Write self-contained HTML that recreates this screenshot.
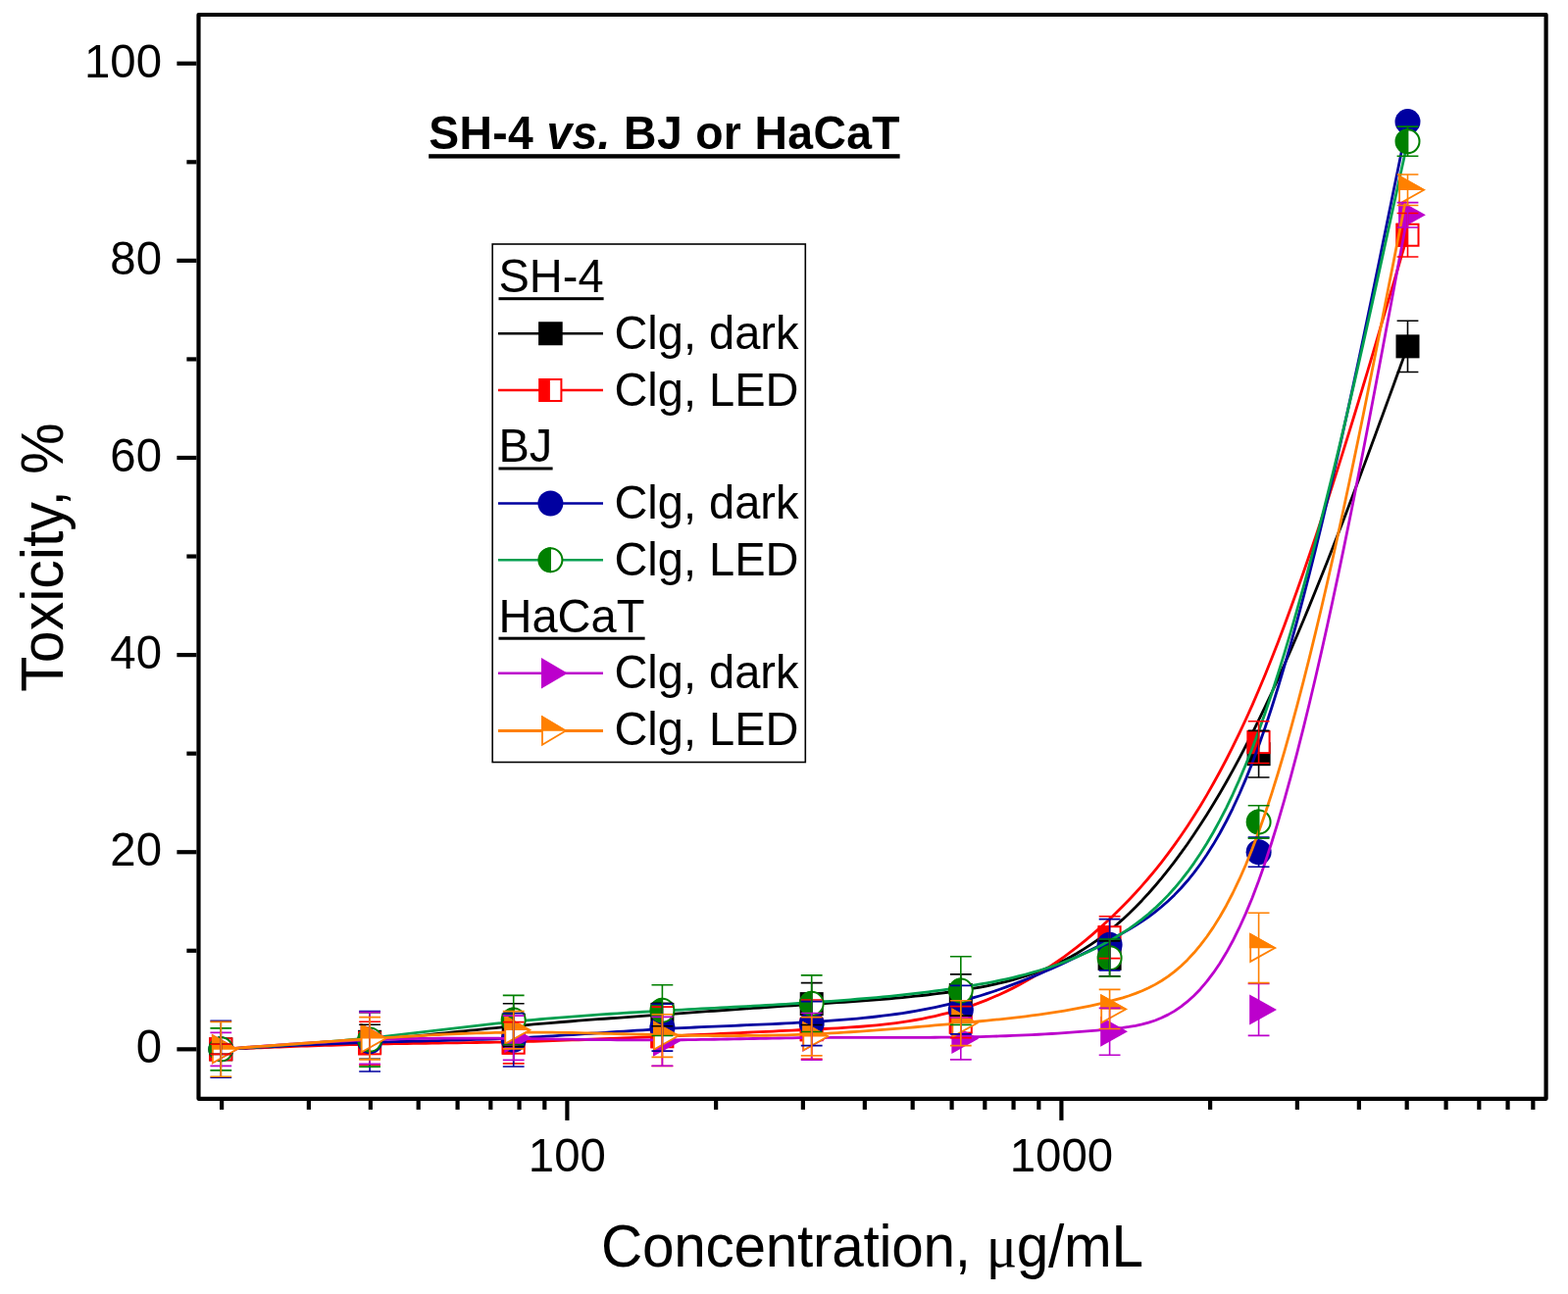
<!DOCTYPE html>
<html><head><meta charset="utf-8"><title>Toxicity plot</title>
<style>html,body{margin:0;padding:0;background:#fff;width:1599px;height:1320px;overflow:hidden}svg{display:block}</style>
</head><body>
<svg width="1599" height="1320" viewBox="0 0 1599 1320" style="position:absolute;left:0;top:0">
<rect width="1599" height="1320" fill="#fff"/>
<path d="M225.3,1070.35 L225.3,1070.35 L225.32,1070.35 L225.36,1070.35 L225.43,1070.34 L225.56,1070.34 L225.75,1070.33 L226.01,1070.31 L226.36,1070.3 L226.82,1070.27 L227.38,1070.25 L228.07,1070.21 L228.89,1070.17 L229.87,1070.12 L231.01,1070.07 L232.32,1070 L233.82,1069.93 L235.52,1069.84 L237.43,1069.75 L239.56,1069.64 L241.94,1069.52 L244.56,1069.39 L247.44,1069.25 L250.6,1069.09 L254.04,1068.92 L257.76,1068.74 L261.73,1068.54 L265.96,1068.32 L270.42,1068.09 L275.1,1067.85 L279.99,1067.59 L285.08,1067.31 L290.35,1067.02 L295.8,1066.71 L301.4,1066.39 L307.14,1066.05 L313.02,1065.69 L319.02,1065.32 L325.12,1064.93 L331.32,1064.53 L337.6,1064.1 L343.94,1063.66 L350.34,1063.21 L356.79,1062.73 L363.26,1062.24 L369.74,1061.73 L376.23,1061.2 L382.72,1060.65 L389.19,1060.09 L395.65,1059.51 L402.11,1058.92 L408.56,1058.31 L415.01,1057.69 L421.45,1057.06 L427.89,1056.43 L434.32,1055.78 L440.75,1055.13 L447.18,1054.48 L453.61,1053.82 L460.04,1053.16 L466.47,1052.49 L472.91,1051.83 L479.34,1051.17 L485.78,1050.52 L492.23,1049.86 L498.68,1049.22 L505.14,1048.58 L511.6,1047.95 L518.07,1047.33 L524.55,1046.72 L531.04,1046.12 L537.54,1045.54 L544.05,1044.96 L550.56,1044.4 L557.09,1043.85 L563.62,1043.3 L570.16,1042.77 L576.71,1042.24 L583.26,1041.73 L589.82,1041.22 L596.38,1040.71 L602.96,1040.21 L609.53,1039.72 L616.11,1039.24 L622.7,1038.75 L629.29,1038.28 L635.88,1037.8 L642.48,1037.33 L649.08,1036.86 L655.68,1036.39 L662.29,1035.92 L668.89,1035.45 L675.5,1034.99 L682.11,1034.52 L688.72,1034.05 L695.33,1033.58 L701.94,1033.11 L708.56,1032.64 L715.17,1032.17 L721.78,1031.7 L728.4,1031.24 L735.02,1030.77 L741.63,1030.3 L748.25,1029.84 L754.87,1029.37 L761.48,1028.91 L768.1,1028.45 L774.72,1027.99 L781.34,1027.53 L787.96,1027.08 L794.58,1026.63 L801.19,1026.18 L807.81,1025.73 L814.43,1025.29 L821.05,1024.85 L827.67,1024.41 L834.28,1023.98 L840.9,1023.54 L847.52,1023.11 L854.13,1022.67 L860.75,1022.23 L867.36,1021.78 L873.98,1021.31 L880.59,1020.84 L887.21,1020.34 L893.82,1019.83 L900.43,1019.3 L907.05,1018.74 L913.66,1018.16 L920.27,1017.54 L926.88,1016.9 L933.49,1016.23 L940.1,1015.51 L946.71,1014.76 L953.32,1013.97 L959.93,1013.14 L966.54,1012.26 L973.14,1011.33 L979.75,1010.35 L986.36,1009.32 L992.96,1008.22 L999.57,1007.04 L1006.17,1005.78 L1012.78,1004.41 L1019.38,1002.93 L1025.98,1001.33 L1032.59,999.6 L1039.19,997.71 L1045.79,995.67 L1052.4,993.45 L1059,991.06 L1065.6,988.47 L1072.2,985.67 L1078.81,982.65 L1085.41,979.41 L1092.01,975.92 L1098.62,972.18 L1105.22,968.17 L1111.82,963.89 L1118.43,959.32 L1125.03,954.44 L1131.63,949.26 L1138.24,943.75 L1144.84,937.92 L1151.45,931.75 L1158.05,925.25 L1164.66,918.42 L1171.27,911.25 L1177.87,903.74 L1184.48,895.88 L1191.08,887.67 L1197.69,879.11 L1204.3,870.2 L1210.91,860.94 L1217.51,851.31 L1224.12,841.32 L1230.73,830.97 L1237.33,820.25 L1243.94,809.16 L1250.55,797.69 L1257.16,785.85 L1263.76,773.63 L1270.37,761.02 L1276.98,748.03 L1283.58,734.65 L1290.19,720.88 L1296.78,706.78 L1303.35,692.39 L1309.87,677.76 L1316.35,662.94 L1322.77,647.99 L1329.11,632.95 L1335.36,617.88 L1341.52,602.83 L1347.56,587.85 L1353.48,572.98 L1359.25,558.29 L1364.88,543.82 L1370.35,529.63 L1375.64,515.76 L1380.75,502.27 L1385.65,489.2 L1390.34,476.62 L1394.81,464.56 L1399.04,453.08 L1403.02,442.24 L1406.74,432.08 L1410.18,422.66 L1413.34,414.01 L1416.23,406.11 L1418.85,398.92 L1421.23,392.43 L1423.36,386.58 L1425.28,381.34 L1426.98,376.69 L1428.48,372.58 L1429.79,368.99 L1430.93,365.87 L1431.9,363.2 L1432.73,360.94 L1433.42,359.05 L1433.98,357.51 L1434.43,356.27 L1434.79,355.31 L1435.05,354.59 L1435.24,354.07 L1435.37,353.72 L1435.44,353.51 L1435.48,353.4 L1435.5,353.36 L1435.5,353.36" fill="none" stroke="#000000" stroke-width="2.8" stroke-linejoin="round"/><rect x="213.3" y="1058.35" width="24" height="24" fill="#000000"/><rect x="365.1" y="1050.81" width="24" height="24" fill="#000000"/><rect x="511.7" y="1033.61" width="24" height="24" fill="#000000"/><rect x="663.4" y="1023.05" width="24" height="24" fill="#000000"/><rect x="815.7" y="1012.09" width="24" height="24" fill="#000000"/><rect x="967.8" y="1003.04" width="24" height="24" fill="#000000"/><rect x="1119.6" y="965.83" width="24" height="24" fill="#000000"/><rect x="1271.6" y="757.17" width="24" height="24" fill="#000000"/><rect x="1423.5" y="341.36" width="24" height="24" fill="#000000"/>
<path d="M225.3,1070.35 L225.3,1070.35 L225.32,1070.35 L225.36,1070.35 L225.43,1070.34 L225.56,1070.34 L225.75,1070.33 L226.01,1070.32 L226.36,1070.31 L226.82,1070.29 L227.38,1070.27 L228.07,1070.24 L228.89,1070.21 L229.87,1070.17 L231.01,1070.12 L232.32,1070.07 L233.82,1070.01 L235.52,1069.94 L237.43,1069.87 L239.56,1069.78 L241.94,1069.69 L244.56,1069.58 L247.44,1069.47 L250.6,1069.34 L254.04,1069.21 L257.76,1069.06 L261.73,1068.9 L265.96,1068.74 L270.42,1068.57 L275.1,1068.39 L279.99,1068.2 L285.08,1068.01 L290.35,1067.82 L295.8,1067.62 L301.4,1067.42 L307.14,1067.22 L313.02,1067.02 L319.02,1066.82 L325.12,1066.62 L331.32,1066.43 L337.6,1066.24 L343.94,1066.05 L350.34,1065.87 L356.79,1065.7 L363.26,1065.53 L369.74,1065.37 L376.23,1065.22 L382.72,1065.08 L389.19,1064.95 L395.65,1064.83 L402.11,1064.72 L408.56,1064.61 L415.01,1064.51 L421.45,1064.41 L427.89,1064.32 L434.32,1064.23 L440.75,1064.14 L447.18,1064.05 L453.61,1063.96 L460.04,1063.87 L466.47,1063.78 L472.91,1063.69 L479.34,1063.59 L485.78,1063.49 L492.23,1063.39 L498.68,1063.27 L505.14,1063.15 L511.6,1063.03 L518.07,1062.89 L524.55,1062.74 L531.04,1062.58 L537.54,1062.41 L544.05,1062.23 L550.56,1062.05 L557.09,1061.85 L563.62,1061.64 L570.16,1061.42 L576.71,1061.2 L583.26,1060.97 L589.82,1060.73 L596.38,1060.49 L602.96,1060.23 L609.53,1059.98 L616.11,1059.71 L622.7,1059.45 L629.29,1059.17 L635.88,1058.9 L642.48,1058.62 L649.08,1058.33 L655.68,1058.05 L662.29,1057.76 L668.89,1057.47 L675.5,1057.18 L682.11,1056.88 L688.72,1056.59 L695.33,1056.29 L701.94,1056 L708.56,1055.7 L715.17,1055.4 L721.78,1055.1 L728.4,1054.8 L735.02,1054.49 L741.63,1054.19 L748.25,1053.89 L754.87,1053.58 L761.48,1053.27 L768.1,1052.96 L774.72,1052.65 L781.34,1052.34 L787.96,1052.03 L794.58,1051.72 L801.19,1051.4 L807.81,1051.09 L814.43,1050.77 L821.05,1050.46 L827.67,1050.14 L834.28,1049.82 L840.9,1049.49 L847.52,1049.15 L854.13,1048.78 L860.75,1048.39 L867.36,1047.97 L873.98,1047.51 L880.59,1047 L887.21,1046.44 L893.82,1045.82 L900.43,1045.13 L907.05,1044.38 L913.66,1043.54 L920.27,1042.62 L926.88,1041.61 L933.49,1040.5 L940.1,1039.29 L946.71,1037.97 L953.32,1036.53 L959.93,1034.96 L966.54,1033.27 L973.14,1031.44 L979.75,1029.47 L986.36,1027.35 L992.96,1025.08 L999.57,1022.66 L1006.17,1020.08 L1012.78,1017.33 L1019.38,1014.43 L1025.98,1011.36 L1032.59,1008.12 L1039.19,1004.71 L1045.79,1001.12 L1052.4,997.36 L1059,993.42 L1065.6,989.3 L1072.2,984.99 L1078.81,980.5 L1085.41,975.81 L1092.01,970.93 L1098.62,965.85 L1105.22,960.58 L1111.82,955.1 L1118.43,949.42 L1125.03,943.53 L1131.63,937.43 L1138.24,931.11 L1144.84,924.57 L1151.45,917.77 L1158.05,910.72 L1164.66,903.38 L1171.27,895.74 L1177.87,887.8 L1184.48,879.52 L1191.08,870.89 L1197.69,861.89 L1204.3,852.52 L1210.91,842.74 L1217.51,832.55 L1224.12,821.93 L1230.73,810.86 L1237.33,799.32 L1243.94,787.29 L1250.55,774.77 L1257.16,761.73 L1263.76,748.16 L1270.37,734.03 L1276.98,719.34 L1283.58,704.06 L1290.19,688.19 L1296.78,671.8 L1303.35,654.93 L1309.87,637.68 L1316.35,620.09 L1322.77,602.25 L1329.11,584.22 L1335.36,566.06 L1341.52,547.86 L1347.56,529.67 L1353.48,511.56 L1359.25,493.61 L1364.88,475.88 L1370.35,458.45 L1375.64,441.37 L1380.75,424.72 L1385.65,408.57 L1390.34,392.99 L1394.81,378.04 L1399.04,363.79 L1403.02,350.31 L1406.74,337.68 L1410.18,325.95 L1413.34,315.19 L1416.23,305.36 L1418.85,296.42 L1421.23,288.34 L1423.36,281.06 L1425.28,274.54 L1426.98,268.75 L1428.48,263.64 L1429.79,259.17 L1430.93,255.3 L1431.9,251.97 L1432.73,249.16 L1433.42,246.81 L1433.98,244.89 L1434.43,243.35 L1434.79,242.16 L1435.05,241.26 L1435.24,240.61 L1435.37,240.18 L1435.44,239.92 L1435.48,239.78 L1435.5,239.73 L1435.5,239.72" fill="none" stroke="#ff0000" stroke-width="2.8" stroke-linejoin="round"/><rect x="214.3" y="1059.35" width="22" height="22" fill="#fff" stroke="#ff0000" stroke-width="2"/><rect x="213.3" y="1058.35" width="11.5" height="24" fill="#ff0000"/><rect x="366.1" y="1053.32" width="22" height="22" fill="#fff" stroke="#ff0000" stroke-width="2"/><rect x="365.1" y="1052.32" width="11.5" height="24" fill="#ff0000"/><rect x="512.7" y="1052.71" width="22" height="22" fill="#fff" stroke="#ff0000" stroke-width="2"/><rect x="511.7" y="1051.71" width="11.5" height="24" fill="#ff0000"/><rect x="664.4" y="1046.28" width="22" height="22" fill="#fff" stroke="#ff0000" stroke-width="2"/><rect x="663.4" y="1045.28" width="11.5" height="24" fill="#ff0000"/><rect x="816.7" y="1039.24" width="22" height="22" fill="#fff" stroke="#ff0000" stroke-width="2"/><rect x="815.7" y="1038.24" width="11.5" height="24" fill="#ff0000"/><rect x="968.8" y="1031.6" width="22" height="22" fill="#fff" stroke="#ff0000" stroke-width="2"/><rect x="967.8" y="1030.6" width="11.5" height="24" fill="#ff0000"/><rect x="1120.6" y="945.21" width="22" height="22" fill="#fff" stroke="#ff0000" stroke-width="2"/><rect x="1119.6" y="944.21" width="11.5" height="24" fill="#ff0000"/><rect x="1272.6" y="746.11" width="22" height="22" fill="#fff" stroke="#ff0000" stroke-width="2"/><rect x="1271.6" y="745.11" width="11.5" height="24" fill="#ff0000"/><rect x="1424.5" y="228.72" width="22" height="22" fill="#fff" stroke="#ff0000" stroke-width="2"/><rect x="1423.5" y="227.72" width="11.5" height="24" fill="#ff0000"/>
<path d="M225.3,1070.35 L225.3,1070.35 L225.32,1070.35 L225.36,1070.35 L225.43,1070.34 L225.56,1070.34 L225.75,1070.33 L226.01,1070.31 L226.36,1070.29 L226.82,1070.27 L227.38,1070.24 L228.07,1070.2 L228.89,1070.16 L229.87,1070.11 L231.01,1070.05 L232.32,1069.98 L233.82,1069.9 L235.52,1069.81 L237.43,1069.71 L239.56,1069.59 L241.94,1069.47 L244.56,1069.33 L247.44,1069.18 L250.6,1069.01 L254.04,1068.83 L257.76,1068.63 L261.73,1068.42 L265.96,1068.2 L270.42,1067.97 L275.1,1067.73 L279.99,1067.48 L285.08,1067.23 L290.35,1066.96 L295.8,1066.7 L301.4,1066.43 L307.14,1066.16 L313.02,1065.89 L319.02,1065.62 L325.12,1065.35 L331.32,1065.08 L337.6,1064.82 L343.94,1064.56 L350.34,1064.31 L356.79,1064.07 L363.26,1063.83 L369.74,1063.61 L376.23,1063.39 L382.72,1063.19 L389.19,1063 L395.65,1062.82 L402.11,1062.65 L408.56,1062.48 L415.01,1062.32 L421.45,1062.16 L427.89,1062.01 L434.32,1061.85 L440.75,1061.69 L447.18,1061.54 L453.61,1061.38 L460.04,1061.21 L466.47,1061.04 L472.91,1060.86 L479.34,1060.67 L485.78,1060.47 L492.23,1060.25 L498.68,1060.03 L505.14,1059.78 L511.6,1059.53 L518.07,1059.25 L524.55,1058.95 L531.04,1058.64 L537.54,1058.3 L544.05,1057.95 L550.56,1057.58 L557.09,1057.19 L563.62,1056.8 L570.16,1056.39 L576.71,1055.97 L583.26,1055.55 L589.82,1055.11 L596.38,1054.68 L602.96,1054.24 L609.53,1053.79 L616.11,1053.35 L622.7,1052.91 L629.29,1052.47 L635.88,1052.04 L642.48,1051.62 L649.08,1051.2 L655.68,1050.79 L662.29,1050.39 L668.89,1050.01 L675.5,1049.63 L682.11,1049.28 L688.72,1048.94 L695.33,1048.61 L701.94,1048.29 L708.56,1047.99 L715.17,1047.69 L721.78,1047.4 L728.4,1047.11 L735.02,1046.83 L741.63,1046.55 L748.25,1046.28 L754.87,1046 L761.48,1045.72 L768.1,1045.43 L774.72,1045.14 L781.34,1044.85 L787.96,1044.54 L794.58,1044.23 L801.19,1043.9 L807.81,1043.56 L814.43,1043.21 L821.05,1042.85 L827.67,1042.46 L834.28,1042.06 L840.9,1041.63 L847.52,1041.18 L854.13,1040.7 L860.75,1040.19 L867.36,1039.64 L873.98,1039.05 L880.59,1038.42 L887.21,1037.74 L893.82,1037.01 L900.43,1036.23 L907.05,1035.39 L913.66,1034.49 L920.27,1033.53 L926.88,1032.5 L933.49,1031.39 L940.1,1030.22 L946.71,1028.96 L953.32,1027.63 L959.93,1026.2 L966.54,1024.69 L973.14,1023.09 L979.75,1021.39 L986.36,1019.6 L992.96,1017.71 L999.57,1015.72 L1006.17,1013.64 L1012.78,1011.46 L1019.38,1009.2 L1025.98,1006.85 L1032.59,1004.42 L1039.19,1001.9 L1045.79,999.31 L1052.4,996.63 L1059,993.88 L1065.6,991.05 L1072.2,988.15 L1078.81,985.17 L1085.41,982.13 L1092.01,979.02 L1098.62,975.85 L1105.22,972.61 L1111.82,969.31 L1118.43,965.95 L1125.03,962.53 L1131.63,959.06 L1138.24,955.53 L1144.84,951.89 L1151.45,948.1 L1158.05,944.1 L1164.66,939.84 L1171.27,935.28 L1177.87,930.35 L1184.48,925.01 L1191.08,919.21 L1197.69,912.9 L1204.3,906.02 L1210.91,898.52 L1217.51,890.36 L1224.12,881.48 L1230.73,871.83 L1237.33,861.36 L1243.94,850.02 L1250.55,837.75 L1257.16,824.51 L1263.76,810.25 L1270.37,794.91 L1276.98,778.44 L1283.58,760.79 L1290.19,741.94 L1296.78,721.98 L1303.35,701.01 L1309.87,679.16 L1316.35,656.54 L1322.77,633.26 L1329.11,609.44 L1335.36,585.19 L1341.52,560.64 L1347.56,535.88 L1353.48,511.04 L1359.25,486.23 L1364.88,461.57 L1370.35,437.17 L1375.64,413.15 L1380.75,389.62 L1385.65,366.69 L1390.34,344.48 L1394.81,323.11 L1399.04,302.69 L1403.02,283.33 L1406.74,265.16 L1410.18,248.27 L1413.34,232.77 L1416.23,218.61 L1418.85,205.74 L1421.23,194.09 L1423.36,183.61 L1425.28,174.23 L1426.98,165.89 L1428.48,158.53 L1429.79,152.09 L1430.93,146.51 L1431.9,141.72 L1432.73,137.67 L1433.42,134.29 L1433.98,131.52 L1434.43,129.31 L1434.79,127.58 L1435.05,126.29 L1435.24,125.36 L1435.37,124.73 L1435.44,124.36 L1435.48,124.16 L1435.5,124.09 L1435.5,124.08" fill="none" stroke="#0000a0" stroke-width="2.8" stroke-linejoin="round"/><circle cx="225.3" cy="1070.35" r="13" fill="#0000a0"/><circle cx="377.1" cy="1062.31" r="13" fill="#0000a0"/><circle cx="523.7" cy="1060.8" r="13" fill="#0000a0"/><circle cx="675.4" cy="1048.23" r="13" fill="#0000a0"/><circle cx="827.7" cy="1044.1" r="13" fill="#0000a0"/><circle cx="979.8" cy="1030.13" r="13" fill="#0000a0"/><circle cx="1131.6" cy="963.76" r="13" fill="#0000a0"/><circle cx="1283.6" cy="869.23" r="13" fill="#0000a0"/><circle cx="1435.5" cy="124.08" r="13" fill="#0000a0"/>
<path d="M225.3,1070.35 L225.3,1070.35 L225.32,1070.35 L225.36,1070.35 L225.43,1070.34 L225.56,1070.33 L225.75,1070.32 L226.01,1070.3 L226.36,1070.28 L226.82,1070.25 L227.38,1070.22 L228.07,1070.17 L228.89,1070.12 L229.87,1070.06 L231.01,1069.98 L232.32,1069.9 L233.82,1069.8 L235.52,1069.69 L237.43,1069.57 L239.56,1069.43 L241.94,1069.28 L244.56,1069.11 L247.44,1068.93 L250.6,1068.72 L254.04,1068.5 L257.76,1068.26 L261.73,1068 L265.96,1067.73 L270.42,1067.43 L275.1,1067.12 L279.99,1066.79 L285.08,1066.43 L290.35,1066.06 L295.8,1065.67 L301.4,1065.27 L307.14,1064.84 L313.02,1064.39 L319.02,1063.93 L325.12,1063.44 L331.32,1062.94 L337.6,1062.41 L343.94,1061.87 L350.34,1061.31 L356.79,1060.73 L363.26,1060.13 L369.74,1059.51 L376.23,1058.87 L382.72,1058.21 L389.19,1057.53 L395.65,1056.84 L402.11,1056.13 L408.56,1055.41 L415.01,1054.68 L421.45,1053.94 L427.89,1053.19 L434.32,1052.44 L440.75,1051.68 L447.18,1050.92 L453.61,1050.16 L460.04,1049.39 L466.47,1048.64 L472.91,1047.88 L479.34,1047.13 L485.78,1046.39 L492.23,1045.66 L498.68,1044.94 L505.14,1044.23 L511.6,1043.53 L518.07,1042.85 L524.55,1042.19 L531.04,1041.55 L537.54,1040.93 L544.05,1040.32 L550.56,1039.74 L557.09,1039.17 L563.62,1038.61 L570.16,1038.07 L576.71,1037.55 L583.26,1037.04 L589.82,1036.55 L596.38,1036.07 L602.96,1035.6 L609.53,1035.14 L616.11,1034.7 L622.7,1034.26 L629.29,1033.84 L635.88,1033.43 L642.48,1033.02 L649.08,1032.63 L655.68,1032.24 L662.29,1031.86 L668.89,1031.48 L675.5,1031.11 L682.11,1030.75 L688.72,1030.39 L695.33,1030.04 L701.94,1029.69 L708.56,1029.34 L715.17,1029 L721.78,1028.65 L728.4,1028.31 L735.02,1027.96 L741.63,1027.62 L748.25,1027.27 L754.87,1026.92 L761.48,1026.56 L768.1,1026.2 L774.72,1025.84 L781.34,1025.47 L787.96,1025.1 L794.58,1024.71 L801.19,1024.32 L807.81,1023.92 L814.43,1023.52 L821.05,1023.1 L827.67,1022.67 L834.28,1022.23 L840.9,1021.77 L847.52,1021.31 L854.13,1020.82 L860.75,1020.32 L867.36,1019.81 L873.98,1019.27 L880.59,1018.72 L887.21,1018.14 L893.82,1017.54 L900.43,1016.92 L907.05,1016.27 L913.66,1015.6 L920.27,1014.9 L926.88,1014.18 L933.49,1013.42 L940.1,1012.64 L946.71,1011.82 L953.32,1010.97 L959.93,1010.08 L966.54,1009.16 L973.14,1008.21 L979.75,1007.22 L986.36,1006.18 L992.96,1005.1 L999.57,1003.97 L1006.17,1002.78 L1012.78,1001.53 L1019.38,1000.2 L1025.98,998.79 L1032.59,997.29 L1039.19,995.7 L1045.79,994 L1052.4,992.2 L1059,990.28 L1065.6,988.25 L1072.2,986.08 L1078.81,983.77 L1085.41,981.32 L1092.01,978.73 L1098.62,975.97 L1105.22,973.05 L1111.82,969.96 L1118.43,966.7 L1125.03,963.24 L1131.63,959.6 L1138.24,955.75 L1144.84,951.67 L1151.45,947.31 L1158.05,942.64 L1164.66,937.63 L1171.27,932.23 L1177.87,926.41 L1184.48,920.14 L1191.08,913.37 L1197.69,906.06 L1204.3,898.19 L1210.91,889.71 L1217.51,880.59 L1224.12,870.79 L1230.73,860.27 L1237.33,849 L1243.94,836.93 L1250.55,824.04 L1257.16,810.28 L1263.76,795.62 L1270.37,780.02 L1276.98,763.45 L1283.58,745.86 L1290.19,727.24 L1296.78,707.68 L1303.35,687.27 L1309.87,666.12 L1316.35,644.33 L1322.77,622.01 L1329.11,599.25 L1335.36,576.16 L1341.52,552.84 L1347.56,529.39 L1353.48,505.93 L1359.25,482.54 L1364.88,459.33 L1370.35,436.41 L1375.64,413.88 L1380.75,391.83 L1385.65,370.39 L1390.34,349.63 L1394.81,329.68 L1399.04,310.63 L1403.02,292.58 L1406.74,275.64 L1410.18,259.9 L1413.34,245.46 L1416.23,232.27 L1418.85,220.27 L1421.23,209.42 L1423.36,199.66 L1425.28,190.92 L1426.98,183.15 L1428.48,176.29 L1429.79,170.29 L1430.93,165.09 L1431.9,160.63 L1432.73,156.85 L1433.42,153.7 L1433.98,151.13 L1434.43,149.06 L1434.79,147.45 L1435.05,146.25 L1435.24,145.38 L1435.37,144.8 L1435.44,144.45 L1435.48,144.27 L1435.5,144.2 L1435.5,144.19" fill="none" stroke="#00a050" stroke-width="2.8" stroke-linejoin="round"/><circle cx="225.3" cy="1070.35" r="12" fill="#fff" stroke="#008000" stroke-width="2"/><path d="M225.9,1057.35 A13,13 0 0 0 225.9,1083.35 Z" fill="#008000"/><circle cx="377.1" cy="1060.6" r="12" fill="#fff" stroke="#008000" stroke-width="2"/><path d="M377.7,1047.6 A13,13 0 0 0 377.7,1073.6 Z" fill="#008000"/><circle cx="523.7" cy="1040.48" r="12" fill="#fff" stroke="#008000" stroke-width="2"/><path d="M524.3,1027.48 A13,13 0 0 0 524.3,1053.48 Z" fill="#008000"/><circle cx="675.4" cy="1030.63" r="12" fill="#fff" stroke="#008000" stroke-width="2"/><path d="M676,1017.63 A13,13 0 0 0 676,1043.63 Z" fill="#008000"/><circle cx="827.7" cy="1023.69" r="12" fill="#fff" stroke="#008000" stroke-width="2"/><path d="M828.3,1010.69 A13,13 0 0 0 828.3,1036.69 Z" fill="#008000"/><circle cx="979.8" cy="1010.62" r="12" fill="#fff" stroke="#008000" stroke-width="2"/><path d="M980.4,997.62 A13,13 0 0 0 980.4,1023.62 Z" fill="#008000"/><circle cx="1131.6" cy="977.13" r="12" fill="#fff" stroke="#008000" stroke-width="2"/><path d="M1132.2,964.13 A13,13 0 0 0 1132.2,990.13 Z" fill="#008000"/><circle cx="1283.6" cy="838.46" r="12" fill="#fff" stroke="#008000" stroke-width="2"/><path d="M1284.2,825.46 A13,13 0 0 0 1284.2,851.46 Z" fill="#008000"/><circle cx="1435.5" cy="144.19" r="12" fill="#fff" stroke="#008000" stroke-width="2"/><path d="M1436.1,131.19 A13,13 0 0 0 1436.1,157.19 Z" fill="#008000"/>
<path d="M225.3,1070.35 L225.3,1070.35 L225.32,1070.35 L225.36,1070.35 L225.43,1070.34 L225.56,1070.33 L225.75,1070.32 L226.01,1070.3 L226.36,1070.27 L226.82,1070.24 L227.38,1070.19 L228.07,1070.14 L228.89,1070.08 L229.87,1070.01 L231.01,1069.92 L232.32,1069.82 L233.82,1069.71 L235.52,1069.59 L237.43,1069.44 L239.56,1069.28 L241.94,1069.1 L244.56,1068.91 L247.44,1068.69 L250.6,1068.46 L254.04,1068.2 L257.76,1067.92 L261.73,1067.63 L265.96,1067.32 L270.42,1066.99 L275.1,1066.65 L279.99,1066.31 L285.08,1065.95 L290.35,1065.59 L295.8,1065.22 L301.4,1064.85 L307.14,1064.48 L313.02,1064.11 L319.02,1063.74 L325.12,1063.38 L331.32,1063.02 L337.6,1062.67 L343.94,1062.33 L350.34,1062 L356.79,1061.69 L363.26,1061.39 L369.74,1061.11 L376.23,1060.85 L382.72,1060.61 L389.19,1060.39 L395.65,1060.19 L402.11,1060 L408.56,1059.84 L415.01,1059.7 L421.45,1059.57 L427.89,1059.46 L434.32,1059.36 L440.75,1059.29 L447.18,1059.22 L453.61,1059.17 L460.04,1059.14 L466.47,1059.12 L472.91,1059.11 L479.34,1059.11 L485.78,1059.12 L492.23,1059.15 L498.68,1059.18 L505.14,1059.22 L511.6,1059.28 L518.07,1059.34 L524.55,1059.41 L531.04,1059.48 L537.54,1059.56 L544.05,1059.65 L550.56,1059.74 L557.09,1059.83 L563.62,1059.93 L570.16,1060.03 L576.71,1060.12 L583.26,1060.22 L589.82,1060.31 L596.38,1060.4 L602.96,1060.49 L609.53,1060.57 L616.11,1060.65 L622.7,1060.72 L629.29,1060.78 L635.88,1060.83 L642.48,1060.87 L649.08,1060.9 L655.68,1060.92 L662.29,1060.93 L668.89,1060.92 L675.5,1060.9 L682.11,1060.86 L688.72,1060.81 L695.33,1060.74 L701.94,1060.66 L708.56,1060.57 L715.17,1060.47 L721.78,1060.36 L728.4,1060.25 L735.02,1060.13 L741.63,1060.01 L748.25,1059.88 L754.87,1059.75 L761.48,1059.62 L768.1,1059.49 L774.72,1059.36 L781.34,1059.23 L787.96,1059.11 L794.58,1059 L801.19,1058.89 L807.81,1058.79 L814.43,1058.7 L821.05,1058.62 L827.67,1058.55 L834.28,1058.5 L840.9,1058.45 L847.52,1058.42 L854.13,1058.4 L860.75,1058.38 L867.36,1058.38 L873.98,1058.37 L880.59,1058.37 L887.21,1058.38 L893.82,1058.38 L900.43,1058.39 L907.05,1058.39 L913.66,1058.39 L920.27,1058.39 L926.88,1058.38 L933.49,1058.36 L940.1,1058.34 L946.71,1058.3 L953.32,1058.26 L959.93,1058.2 L966.54,1058.13 L973.14,1058.05 L979.75,1057.95 L986.36,1057.83 L992.96,1057.69 L999.57,1057.54 L1006.17,1057.37 L1012.78,1057.17 L1019.38,1056.96 L1025.98,1056.73 L1032.59,1056.47 L1039.19,1056.2 L1045.79,1055.9 L1052.4,1055.58 L1059,1055.23 L1065.6,1054.87 L1072.2,1054.48 L1078.81,1054.06 L1085.41,1053.62 L1092.01,1053.16 L1098.62,1052.66 L1105.22,1052.15 L1111.82,1051.6 L1118.43,1051.03 L1125.03,1050.43 L1131.63,1049.8 L1138.24,1049.13 L1144.84,1048.37 L1151.45,1047.46 L1158.05,1046.32 L1164.66,1044.9 L1171.27,1043.14 L1177.87,1040.96 L1184.48,1038.32 L1191.08,1035.13 L1197.69,1031.34 L1204.3,1026.89 L1210.91,1021.71 L1217.51,1015.74 L1224.12,1008.92 L1230.73,1001.18 L1237.33,992.45 L1243.94,982.68 L1250.55,971.81 L1257.16,959.76 L1263.76,946.47 L1270.37,931.88 L1276.98,915.94 L1283.58,898.56 L1290.19,879.73 L1296.78,859.54 L1303.35,838.12 L1309.87,815.6 L1316.35,792.13 L1322.77,767.81 L1329.11,742.8 L1335.36,717.22 L1341.52,691.2 L1347.56,664.87 L1353.48,638.36 L1359.25,611.81 L1364.88,585.35 L1370.35,559.11 L1375.64,533.21 L1380.75,507.8 L1385.65,483 L1390.34,458.94 L1394.81,435.76 L1399.04,413.58 L1403.02,392.55 L1406.74,372.78 L1410.18,354.41 L1413.34,337.55 L1416.23,322.14 L1418.85,308.14 L1421.23,295.47 L1423.36,284.07 L1425.28,273.86 L1426.98,264.79 L1428.48,256.79 L1429.79,249.78 L1430.93,243.71 L1431.9,238.5 L1432.73,234.09 L1433.42,230.41 L1433.98,227.41 L1434.43,225 L1434.79,223.12 L1435.05,221.71 L1435.24,220.7 L1435.37,220.02 L1435.44,219.61 L1435.48,219.4 L1435.5,219.32 L1435.5,219.31" fill="none" stroke="#bc00cc" stroke-width="2.8" stroke-linejoin="round"/><path d="M215.9,1054.85 L243.7,1070.35 L215.9,1085.85 Z" fill="#bc00cc"/><path d="M367.7,1043.49 L395.5,1058.99 L367.7,1074.49 Z" fill="#bc00cc"/><path d="M514.3,1043.29 L542.1,1058.79 L514.3,1074.29 Z" fill="#bc00cc"/><path d="M666,1046.81 L693.8,1062.31 L666,1077.81 Z" fill="#bc00cc"/><path d="M818.3,1041.88 L846.1,1057.38 L818.3,1072.88 Z" fill="#bc00cc"/><path d="M970.4,1043.99 L998.2,1059.49 L970.4,1074.99 Z" fill="#bc00cc"/><path d="M1122.2,1036.85 L1150,1052.35 L1122.2,1067.85 Z" fill="#bc00cc"/><path d="M1274.2,1014.42 L1302,1029.92 L1274.2,1045.42 Z" fill="#bc00cc"/><path d="M1426.1,203.81 L1453.9,219.31 L1426.1,234.81 Z" fill="#bc00cc"/>
<path d="M225.3,1070.35 L225.3,1070.35 L225.32,1070.35 L225.36,1070.35 L225.43,1070.34 L225.56,1070.33 L225.75,1070.32 L226.01,1070.3 L226.36,1070.27 L226.82,1070.24 L227.38,1070.2 L228.07,1070.15 L228.89,1070.09 L229.87,1070.02 L231.01,1069.93 L232.32,1069.84 L233.82,1069.73 L235.52,1069.61 L237.43,1069.47 L239.56,1069.31 L241.94,1069.14 L244.56,1068.95 L247.44,1068.74 L250.6,1068.51 L254.04,1068.26 L257.76,1067.99 L261.73,1067.7 L265.96,1067.39 L270.42,1067.07 L275.1,1066.73 L279.99,1066.37 L285.08,1066.01 L290.35,1065.63 L295.8,1065.24 L301.4,1064.84 L307.14,1064.44 L313.02,1064.02 L319.02,1063.6 L325.12,1063.17 L331.32,1062.74 L337.6,1062.31 L343.94,1061.87 L350.34,1061.44 L356.79,1061 L363.26,1060.57 L369.74,1060.14 L376.23,1059.71 L382.72,1059.28 L389.19,1058.87 L395.65,1058.45 L402.11,1058.05 L408.56,1057.66 L415.01,1057.27 L421.45,1056.9 L427.89,1056.53 L434.32,1056.18 L440.75,1055.84 L447.18,1055.52 L453.61,1055.22 L460.04,1054.92 L466.47,1054.65 L472.91,1054.4 L479.34,1054.16 L485.78,1053.95 L492.23,1053.75 L498.68,1053.58 L505.14,1053.43 L511.6,1053.31 L518.07,1053.21 L524.55,1053.14 L531.04,1053.09 L537.54,1053.07 L544.05,1053.08 L550.56,1053.1 L557.09,1053.15 L563.62,1053.21 L570.16,1053.3 L576.71,1053.4 L583.26,1053.51 L589.82,1053.64 L596.38,1053.78 L602.96,1053.92 L609.53,1054.08 L616.11,1054.24 L622.7,1054.41 L629.29,1054.58 L635.88,1054.75 L642.48,1054.92 L649.08,1055.09 L655.68,1055.26 L662.29,1055.42 L668.89,1055.57 L675.5,1055.72 L682.11,1055.86 L688.72,1055.98 L695.33,1056.1 L701.94,1056.2 L708.56,1056.29 L715.17,1056.37 L721.78,1056.43 L728.4,1056.48 L735.02,1056.51 L741.63,1056.53 L748.25,1056.53 L754.87,1056.51 L761.48,1056.47 L768.1,1056.41 L774.72,1056.34 L781.34,1056.24 L787.96,1056.12 L794.58,1055.97 L801.19,1055.81 L807.81,1055.62 L814.43,1055.4 L821.05,1055.16 L827.67,1054.9 L834.28,1054.6 L840.9,1054.29 L847.52,1053.94 L854.13,1053.57 L860.75,1053.18 L867.36,1052.77 L873.98,1052.34 L880.59,1051.89 L887.21,1051.42 L893.82,1050.94 L900.43,1050.43 L907.05,1049.92 L913.66,1049.39 L920.27,1048.84 L926.88,1048.29 L933.49,1047.73 L940.1,1047.15 L946.71,1046.57 L953.32,1045.98 L959.93,1045.39 L966.54,1044.79 L973.14,1044.19 L979.75,1043.58 L986.36,1042.98 L992.96,1042.37 L999.57,1041.74 L1006.17,1041.11 L1012.78,1040.46 L1019.38,1039.79 L1025.98,1039.09 L1032.59,1038.36 L1039.19,1037.61 L1045.79,1036.81 L1052.4,1035.98 L1059,1035.1 L1065.6,1034.17 L1072.2,1033.19 L1078.81,1032.16 L1085.41,1031.06 L1092.01,1029.9 L1098.62,1028.68 L1105.22,1027.38 L1111.82,1026.01 L1118.43,1024.55 L1125.03,1023.02 L1131.63,1021.39 L1138.24,1019.67 L1144.84,1017.8 L1151.45,1015.74 L1158.05,1013.41 L1164.66,1010.78 L1171.27,1007.79 L1177.87,1004.37 L1184.48,1000.49 L1191.08,996.08 L1197.69,991.09 L1204.3,985.46 L1210.91,979.14 L1217.51,972.08 L1224.12,964.21 L1230.73,955.5 L1237.33,945.87 L1243.94,935.29 L1250.55,923.69 L1257.16,911.01 L1263.76,897.21 L1270.37,882.23 L1276.98,866.02 L1283.58,848.51 L1290.19,829.7 L1296.78,809.66 L1303.35,788.52 L1309.87,766.4 L1316.35,743.43 L1322.77,719.72 L1329.11,695.4 L1335.36,670.6 L1341.52,645.42 L1347.56,620 L1353.48,594.45 L1359.25,568.91 L1364.88,543.48 L1370.35,518.29 L1375.64,493.47 L1380.75,469.14 L1385.65,445.41 L1390.34,422.41 L1394.81,400.26 L1399.04,379.09 L1403.02,359.01 L1406.74,340.16 L1410.18,322.64 L1413.34,306.55 L1416.23,291.86 L1418.85,278.5 L1421.23,266.42 L1423.36,255.54 L1425.28,245.8 L1426.98,237.15 L1428.48,229.52 L1429.79,222.83 L1430.93,217.04 L1431.9,212.07 L1432.73,207.87 L1433.42,204.36 L1433.98,201.49 L1434.43,199.19 L1434.79,197.4 L1435.05,196.06 L1435.24,195.09 L1435.37,194.45 L1435.44,194.05 L1435.48,193.85 L1435.5,193.78 L1435.5,193.77" fill="none" stroke="#ff8000" stroke-width="2.8" stroke-linejoin="round"/><path d="M216.9,1056.45 L241.8,1070.35 L216.9,1084.25 Z" fill="#fff" stroke="#ff8000" stroke-width="1.8" stroke-linejoin="miter"/><path d="M215.9,1054.85 L243.7,1070.65 L215.9,1070.65 Z" fill="#ff8000"/><path d="M368.7,1045.39 L393.6,1059.29 L368.7,1073.19 Z" fill="#fff" stroke="#ff8000" stroke-width="1.8" stroke-linejoin="miter"/><path d="M367.7,1043.79 L395.5,1059.59 L367.7,1059.59 Z" fill="#ff8000"/><path d="M515.3,1036.84 L540.2,1050.74 L515.3,1064.64 Z" fill="#fff" stroke="#ff8000" stroke-width="1.8" stroke-linejoin="miter"/><path d="M514.3,1035.24 L542.1,1051.04 L514.3,1051.04 Z" fill="#ff8000"/><path d="M667,1042.67 L691.9,1056.57 L667,1070.47 Z" fill="#fff" stroke="#ff8000" stroke-width="1.8" stroke-linejoin="miter"/><path d="M666,1041.07 L693.8,1056.87 L666,1056.87 Z" fill="#ff8000"/><path d="M819.3,1043.38 L844.2,1057.28 L819.3,1071.18 Z" fill="#fff" stroke="#ff8000" stroke-width="1.8" stroke-linejoin="miter"/><path d="M818.3,1041.78 L846.1,1057.58 L818.3,1057.58 Z" fill="#ff8000"/><path d="M971.4,1029.8 L996.3,1043.7 L971.4,1057.6 Z" fill="#fff" stroke="#ff8000" stroke-width="1.8" stroke-linejoin="miter"/><path d="M970.4,1028.2 L998.2,1044 L970.4,1044 Z" fill="#ff8000"/><path d="M1123.2,1015.52 L1148.1,1029.42 L1123.2,1043.32 Z" fill="#fff" stroke="#ff8000" stroke-width="1.8" stroke-linejoin="miter"/><path d="M1122.2,1013.92 L1150,1029.72 L1122.2,1029.72 Z" fill="#ff8000"/><path d="M1275.2,953.07 L1300.1,966.97 L1275.2,980.87 Z" fill="#fff" stroke="#ff8000" stroke-width="1.8" stroke-linejoin="miter"/><path d="M1274.2,951.47 L1302,967.27 L1274.2,967.27 Z" fill="#ff8000"/><path d="M1427.1,179.87 L1452,193.77 L1427.1,207.67 Z" fill="#fff" stroke="#ff8000" stroke-width="1.8" stroke-linejoin="miter"/><path d="M1426.1,178.27 L1453.9,194.07 L1426.1,194.07 Z" fill="#ff8000"/>
<path d="M225.3,1065.32V1075.38M214.4,1065.32H236.2M214.4,1075.38H236.2M377.1,1045.31V1080.31M366.2,1045.31H388M366.2,1080.31H388M523.7,1023.79V1067.43M512.8,1023.79H534.6M512.8,1067.43H534.6M675.4,1023.29V1046.82M664.5,1023.29H686.3M664.5,1046.82H686.3M827.7,1002.67V1045.51M816.8,1002.67H838.6M816.8,1045.51H838.6M979.8,993.92V1036.16M968.9,993.92H990.7M968.9,1036.16H990.7M1131.6,959.83V995.84M1120.7,959.83H1142.5M1120.7,995.84H1142.5M1283.6,745.34V793.01M1272.7,745.34H1294.5M1272.7,793.01H1294.5M1435.5,327.21V379.5M1424.6,327.21H1446.4M1424.6,379.5H1446.4" stroke="#000000" stroke-width="1.6" fill="none"/>
<path d="M225.3,1065.32V1075.38M214.4,1065.32H236.2M214.4,1075.38H236.2M377.1,1042.19V1086.44M366.2,1042.19H388M366.2,1086.44H388M523.7,1042.6V1084.83M512.8,1042.6H534.6M512.8,1084.83H534.6M675.4,1027.11V1087.45M664.5,1027.11H686.3M664.5,1087.45H686.3M827.7,1020.07V1080.41M816.8,1020.07H838.6M816.8,1080.41H838.6M979.8,1026.61V1058.58M968.9,1026.61H990.7M968.9,1058.58H990.7M1131.6,934.8V977.63M1120.7,934.8H1142.5M1120.7,977.63H1142.5M1283.6,735.69V778.52M1272.7,735.69H1294.5M1272.7,778.52H1294.5M1435.5,217.5V261.95M1424.6,217.5H1446.4M1424.6,261.95H1446.4" stroke="#ff0000" stroke-width="1.6" fill="none"/>
<path d="M225.3,1041.39V1099.31M214.4,1041.39H236.2M214.4,1099.31H236.2M377.1,1031.63V1092.98M366.2,1031.63H388M366.2,1092.98H388M523.7,1033.65V1087.95M512.8,1033.65H534.6M512.8,1087.95H534.6M675.4,1024.29V1072.16M664.5,1024.29H686.3M664.5,1072.16H686.3M827.7,1021.58V1066.63M816.8,1021.58H838.6M816.8,1066.63H838.6M979.8,1005.39V1054.86M968.9,1005.39H990.7M968.9,1054.86H990.7M1131.6,937.61V989.9M1120.7,937.61H1142.5M1120.7,989.9H1142.5M1283.6,854.15V884.31M1272.7,854.15H1294.5M1272.7,884.31H1294.5M1435.5,118.05V130.11M1424.6,118.05H1446.4M1424.6,130.11H1446.4" stroke="#0000a0" stroke-width="1.6" fill="none"/>
<path d="M225.3,1048.83V1091.87M214.4,1048.83H236.2M214.4,1091.87H236.2M377.1,1033.04V1088.15M366.2,1033.04H388M366.2,1088.15H388M523.7,1015.34V1065.62M512.8,1015.34H534.6M512.8,1065.62H534.6M675.4,1004.78V1056.47M664.5,1004.78H686.3M664.5,1056.47H686.3M827.7,994.83V1052.55M816.8,994.83H838.6M816.8,1052.55H838.6M979.8,975.82V1045.41M968.9,975.82H990.7M968.9,1045.41H990.7M1131.6,958.02V996.24M1120.7,958.02H1142.5M1120.7,996.24H1142.5M1283.6,821.77V855.15M1272.7,821.77H1294.5M1272.7,855.15H1294.5M1435.5,129.11V159.28M1424.6,129.11H1446.4M1424.6,159.28H1446.4" stroke="#008000" stroke-width="1.6" fill="none"/>
<path d="M225.3,1053.36V1087.34M214.4,1053.36H236.2M214.4,1087.34H236.2M377.1,1032.64V1085.33M366.2,1032.64H388M366.2,1085.33H388M523.7,1036.16V1081.41M512.8,1036.16H534.6M512.8,1081.41H534.6M675.4,1037.37V1087.24M664.5,1037.37H686.3M664.5,1087.24H686.3M827.7,1033.55V1081.21M816.8,1033.55H838.6M816.8,1081.21H838.6M979.8,1038.07V1080.91M968.9,1038.07H990.7M968.9,1080.91H990.7M1131.6,1028.42V1076.28M1120.7,1028.42H1142.5M1120.7,1076.28H1142.5M1283.6,1003.48V1056.37M1272.7,1003.48H1294.5M1272.7,1056.37H1294.5M1435.5,206.64V231.98M1424.6,206.64H1446.4M1424.6,231.98H1446.4" stroke="#bc00cc" stroke-width="1.6" fill="none"/>
<path d="M225.3,1042.39V1098.31M214.4,1042.39H236.2M214.4,1098.31H236.2M377.1,1037.67V1080.91M366.2,1037.67H388M366.2,1080.91H388M523.7,1031.63V1069.85M512.8,1031.63H534.6M512.8,1069.85H534.6M675.4,1034.75V1078.39M664.5,1034.75H686.3M664.5,1078.39H686.3M827.7,1037.67V1076.89M816.8,1037.67H838.6M816.8,1076.89H838.6M979.8,1020.77V1066.63M968.9,1020.77H990.7M968.9,1066.63H990.7M1131.6,1009.41V1049.43M1120.7,1009.41H1142.5M1120.7,1049.43H1142.5M1283.6,931.28V1002.67M1272.7,931.28H1294.5M1272.7,1002.67H1294.5M1435.5,177.98V209.56M1424.6,177.98H1446.4M1424.6,209.56H1446.4" stroke="#ff8000" stroke-width="1.6" fill="none"/>
<rect x="202.5" y="15" width="1374.1" height="1105.8" fill="none" stroke="#000" stroke-width="4.2" stroke-linejoin="round"/>
<path d="M180.4,1070.35 H200.4" stroke="#000" stroke-width="4.2"/><path d="M190.4,969.79 H200.4" stroke="#000" stroke-width="4.2"/><path d="M180.4,869.23 H200.4" stroke="#000" stroke-width="4.2"/><path d="M190.4,768.67 H200.4" stroke="#000" stroke-width="4.2"/><path d="M180.4,668.11 H200.4" stroke="#000" stroke-width="4.2"/><path d="M190.4,567.55 H200.4" stroke="#000" stroke-width="4.2"/><path d="M180.4,466.99 H200.4" stroke="#000" stroke-width="4.2"/><path d="M190.4,366.43 H200.4" stroke="#000" stroke-width="4.2"/><path d="M180.4,265.87 H200.4" stroke="#000" stroke-width="4.2"/><path d="M190.4,165.31 H200.4" stroke="#000" stroke-width="4.2"/><path d="M180.4,64.75 H200.4" stroke="#000" stroke-width="4.2"/><path d="M226.12,1122.9 V1131.9" stroke="#000" stroke-width="4.2"/><path d="M314.87,1122.9 V1131.9" stroke="#000" stroke-width="4.2"/><path d="M377.84,1122.9 V1131.9" stroke="#000" stroke-width="4.2"/><path d="M426.68,1122.9 V1131.9" stroke="#000" stroke-width="4.2"/><path d="M466.59,1122.9 V1131.9" stroke="#000" stroke-width="4.2"/><path d="M500.33,1122.9 V1131.9" stroke="#000" stroke-width="4.2"/><path d="M529.56,1122.9 V1131.9" stroke="#000" stroke-width="4.2"/><path d="M555.34,1122.9 V1131.9" stroke="#000" stroke-width="4.2"/><path d="M578.4,1122.9 V1142.9" stroke="#000" stroke-width="4.2"/><path d="M730.12,1122.9 V1131.9" stroke="#000" stroke-width="4.2"/><path d="M818.87,1122.9 V1131.9" stroke="#000" stroke-width="4.2"/><path d="M881.84,1122.9 V1131.9" stroke="#000" stroke-width="4.2"/><path d="M930.68,1122.9 V1131.9" stroke="#000" stroke-width="4.2"/><path d="M970.59,1122.9 V1131.9" stroke="#000" stroke-width="4.2"/><path d="M1004.33,1122.9 V1131.9" stroke="#000" stroke-width="4.2"/><path d="M1033.56,1122.9 V1131.9" stroke="#000" stroke-width="4.2"/><path d="M1059.34,1122.9 V1131.9" stroke="#000" stroke-width="4.2"/><path d="M1082.4,1122.9 V1142.9" stroke="#000" stroke-width="4.2"/><path d="M1234.12,1122.9 V1131.9" stroke="#000" stroke-width="4.2"/><path d="M1322.87,1122.9 V1131.9" stroke="#000" stroke-width="4.2"/><path d="M1385.84,1122.9 V1131.9" stroke="#000" stroke-width="4.2"/><path d="M1434.68,1122.9 V1131.9" stroke="#000" stroke-width="4.2"/><path d="M1474.59,1122.9 V1131.9" stroke="#000" stroke-width="4.2"/><path d="M1508.33,1122.9 V1131.9" stroke="#000" stroke-width="4.2"/><path d="M1537.56,1122.9 V1131.9" stroke="#000" stroke-width="4.2"/><path d="M1563.34,1122.9 V1131.9" stroke="#000" stroke-width="4.2"/>
<g font-family="Liberation Sans, Arial, sans-serif" font-size="47.4" fill="#000"><text transform="translate(165,1084.45)" text-anchor="end">0</text><text transform="translate(165,883.33)" text-anchor="end">20</text><text transform="translate(165,682.21)" text-anchor="end">40</text><text transform="translate(165,481.09)" text-anchor="end">60</text><text transform="translate(165,279.97)" text-anchor="end">80</text><text transform="translate(165,78.85)" text-anchor="end">100</text><text transform="translate(578.4,1194.5)" text-anchor="middle">100</text><text transform="translate(1082.4,1194.5)" text-anchor="middle">1000</text></g>
<text transform="translate(889.5,1291.5) scale(1,1.04)" text-anchor="middle" font-family="Liberation Sans, Arial, sans-serif" font-size="58.5" textLength="553" lengthAdjust="spacing">Concentration, <tspan font-family="Liberation Serif, serif">μ</tspan>g/mL</text>
<text transform="translate(63.5,568.5) rotate(-90) scale(1,1.04)" text-anchor="middle" font-family="Liberation Sans, Arial, sans-serif" font-size="59">Toxicity, %</text>
<text transform="translate(437.2,151.9) scale(1,1.04)" font-family="Liberation Sans, Arial, sans-serif" font-size="46.3" font-weight="bold" textLength="480.4" lengthAdjust="spacing">SH-4 <tspan font-style="italic">vs.</tspan> BJ or HaCaT</text>
<rect x="437.2" y="157.2" width="480.4" height="4.4" fill="#000"/>
<rect x="502.2" y="249" width="319.1" height="528.5" fill="none" stroke="#000" stroke-width="1.6"/><g font-family="Liberation Sans, Arial, sans-serif" font-size="47" fill="#000"><text transform="translate(508.5,298.2) scale(1,1.04)">SH-4</text><rect x="508.5" y="303.2" width="107.1" height="3" fill="#000"/><text transform="translate(626.4,355.95) scale(1,1.04)">Clg, dark</text><text transform="translate(626.4,413.7) scale(1,1.04)">Clg, LED</text><text transform="translate(508.5,471.45) scale(1,1.04)">BJ</text><rect x="508.5" y="476.45" width="55.1" height="3" fill="#000"/><text transform="translate(626.4,529.2) scale(1,1.04)">Clg, dark</text><text transform="translate(626.4,586.95) scale(1,1.04)">Clg, LED</text><text transform="translate(508.5,644.7) scale(1,1.04)">HaCaT</text><rect x="508.5" y="649.7" width="149.1" height="3" fill="#000"/><text transform="translate(626.4,702.45) scale(1,1.04)">Clg, dark</text><text transform="translate(626.4,760.2) scale(1,1.04)">Clg, LED</text></g><path d="M508,340.25 H615" stroke="#000000" stroke-width="2.4"/><rect x="549.1" y="328.25" width="24.6" height="24" fill="#000000"/><path d="M508,398 H615" stroke="#ff0000" stroke-width="2.4"/><rect x="550.4" y="387" width="22" height="22" fill="#fff" stroke="#ff0000" stroke-width="2"/><rect x="549.4" y="386" width="11.5" height="24" fill="#ff0000"/><path d="M508,513.5 H615" stroke="#0000a0" stroke-width="2.4"/><circle cx="561.4" cy="513.5" r="13" fill="#0000a0"/><path d="M508,571.25 H615" stroke="#00a050" stroke-width="2.4"/><circle cx="561.4" cy="571.25" r="12" fill="#fff" stroke="#008000" stroke-width="2"/><path d="M562,558.25 A13,13 0 0 0 562,584.25 Z" fill="#008000"/><path d="M508,686.75 H615" stroke="#bc00cc" stroke-width="2.4"/><path d="M552,670.95 L578.8,686.75 L552,702.55 Z" fill="#bc00cc"/><path d="M508,745.5 H615" stroke="#ff8000" stroke-width="2.8"/><path d="M553,731.3 L576.9,745.5 L553,759.7 Z" fill="#fff" stroke="#ff8000" stroke-width="1.8" stroke-linejoin="miter"/><path d="M552,729.7 L578.8,745.8 L552,745.8 Z" fill="#ff8000"/>
</svg>
</body></html>
